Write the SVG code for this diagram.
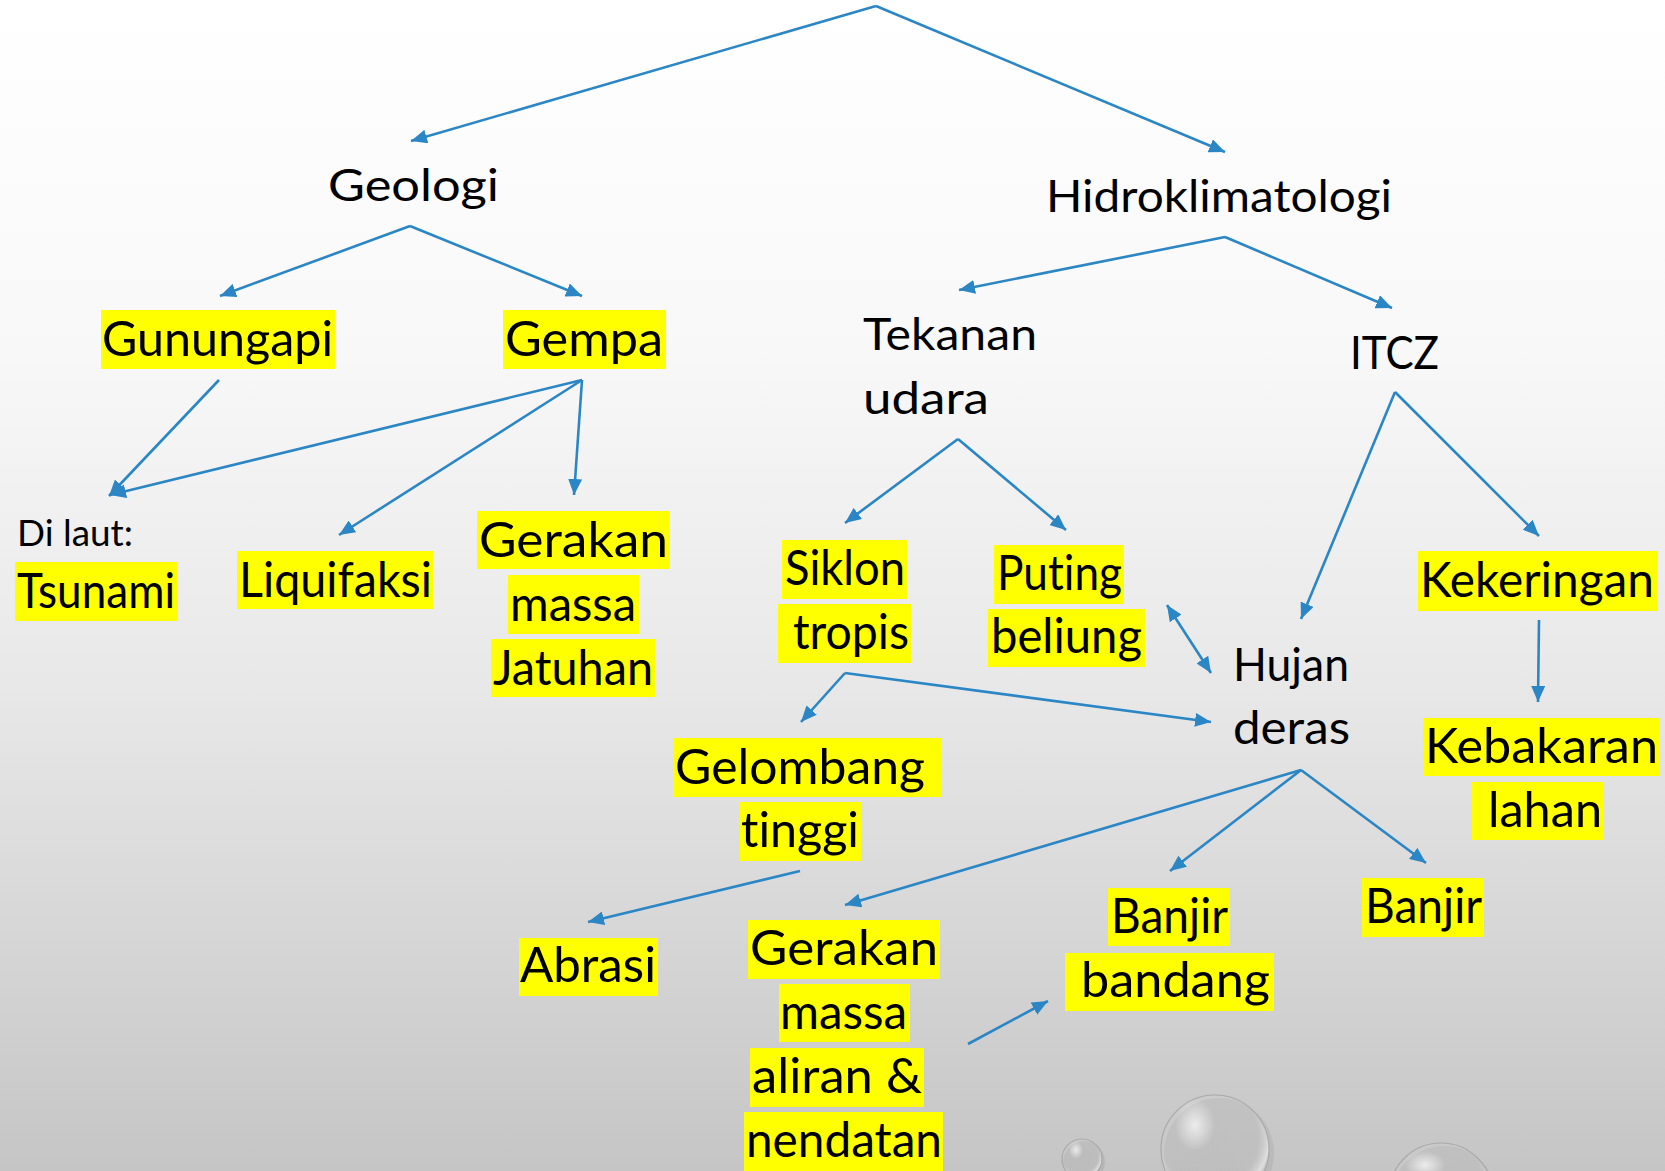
<svg xmlns="http://www.w3.org/2000/svg" width="1665" height="1171" viewBox="0 0 1665 1171">
<defs>
<linearGradient id="bg" x1="0" y1="0" x2="0" y2="1">
<stop offset="0" stop-color="#ffffff"/>
<stop offset="0.3" stop-color="#f8f8f8"/>
<stop offset="0.6" stop-color="#e7e7e7"/>
<stop offset="1" stop-color="#c5c5c5"/>
</linearGradient>
<radialGradient id="drop" cx="0.45" cy="0.4" r="0.6">
<stop offset="0" stop-color="#d8d8d8" stop-opacity="0.15"/>
<stop offset="0.75" stop-color="#d0d0d0" stop-opacity="0.25"/>
<stop offset="0.92" stop-color="#eeeeee" stop-opacity="0.7"/>
<stop offset="1" stop-color="#a8a8a8" stop-opacity="0.9"/>
</radialGradient>
<radialGradient id="shine" cx="0.5" cy="0.5" r="0.5">
<stop offset="0" stop-color="#ffffff" stop-opacity="0.7"/>
<stop offset="1" stop-color="#ffffff" stop-opacity="0"/>
</radialGradient>
<marker id="ah" markerUnits="userSpaceOnUse" markerWidth="18" markerHeight="14" refX="16" refY="7" orient="auto-start-reverse">
<path d="M0,0 L16,7 L0,14 z" fill="#2B86C5"/>
</marker>
<style>
.c{stroke:#2B86C5;stroke-width:2.6;fill:none;marker-end:url(#ah)}
.t{font-family:Lato,"Liberation Sans",sans-serif;fill:#000;font-size:48px;font-variant-ligatures:none;font-feature-settings:"liga" 0}
.s{font-size:45px}
.hl{fill:#FFFF00}
.d{fill:url(#drop);stroke:#a9a9a9;stroke-width:1.2}
.sh{fill:url(#shine)}
</style>
</defs>
<rect x="0" y="0" width="1665" height="1171" fill="url(#bg)"/>
<g id="droplets">
<ellipse cx="1084" cy="1162" rx="21" ry="21" fill="#8a8a8a" opacity="0.25"/>
<circle class="d" cx="1082" cy="1159" r="20"/>
<ellipse class="sh" cx="1076" cy="1150" rx="7" ry="9"/>
<ellipse cx="1219" cy="1153" rx="55" ry="55" fill="#8a8a8a" opacity="0.2"/>
<circle class="d" cx="1215" cy="1149" r="54"/>
<ellipse class="sh" cx="1195" cy="1125" rx="20" ry="26"/>
<ellipse cx="1444" cy="1199" rx="53" ry="53" fill="#8a8a8a" opacity="0.2"/>
<circle class="d" cx="1441" cy="1195" r="52"/>
<ellipse class="sh" cx="1425" cy="1165" rx="20" ry="14"/>
</g>
<g id="connectors">
<line class="c" x1="876" y1="6" x2="411" y2="141"/>
<line class="c" x1="876" y1="6" x2="1225" y2="152"/>
<line class="c" x1="410" y1="226" x2="220" y2="296"/>
<line class="c" x1="410" y1="226" x2="582" y2="296"/>
<line class="c" x1="219" y1="380" x2="109" y2="496"/>
<line class="c" x1="582" y1="380" x2="110" y2="495"/>
<line class="c" x1="582" y1="380" x2="339" y2="535"/>
<line class="c" x1="582" y1="380" x2="574" y2="495"/>
<line class="c" x1="1225" y1="237" x2="959" y2="290"/>
<line class="c" x1="1225" y1="237" x2="1392" y2="308"/>
<line class="c" x1="958" y1="439" x2="845" y2="523"/>
<line class="c" x1="958" y1="439" x2="1066" y2="530"/>
<line class="c" x1="1395" y1="392" x2="1539" y2="536"/>
<line class="c" x1="1395" y1="392" x2="1301" y2="619"/>
<line class="c" x1="845" y1="673" x2="801" y2="722"/>
<line class="c" x1="845" y1="673" x2="1211" y2="722"/>
<line class="c" x1="1167" y1="605" x2="1211" y2="673" style="marker-start:url(#ah)"/>
<line class="c" x1="1539" y1="620" x2="1538" y2="702"/>
<line class="c" x1="1301" y1="770" x2="845" y2="905"/>
<line class="c" x1="1301" y1="770" x2="1170" y2="871"/>
<line class="c" x1="1301" y1="770" x2="1426" y2="863"/>
<line class="c" x1="800" y1="871" x2="588" y2="922"/>
<line class="c" x1="968" y1="1044" x2="1048" y2="1001"/>
</g>
<g id="node-geologi"><text class="t" style="font-size:45px" x="328" y="201" textLength="171" lengthAdjust="spacingAndGlyphs">Geologi</text></g>
<g id="node-hidroklimatologi"><text class="t s" x="1046" y="212" textLength="346" lengthAdjust="spacingAndGlyphs">Hidroklimatologi</text></g>
<g id="node-gunungapi"><rect class="hl" x="101" y="310" width="234" height="59"/><text class="t" x="102" y="356" textLength="231" lengthAdjust="spacingAndGlyphs">Gunungapi</text></g>
<g id="node-gempa"><rect class="hl" x="503" y="310" width="163" height="59"/><text class="t" x="505" y="356" textLength="158" lengthAdjust="spacingAndGlyphs">Gempa</text></g>
<g id="node-dilaut"><text class="t" style="font-size:37px" x="17" y="546" textLength="116" lengthAdjust="spacingAndGlyphs">Di laut:</text></g>
<g id="node-tsunami"><rect class="hl" x="15" y="562" width="163" height="59"/><text class="t" x="17" y="608" textLength="158" lengthAdjust="spacingAndGlyphs">Tsunami</text></g>
<g id="node-liquifaksi"><rect class="hl" x="237" y="551" width="196" height="58"/><text class="t" x="239" y="597" textLength="193" lengthAdjust="spacingAndGlyphs">Liquifaksi</text></g>
<g id="node-gerakan-jatuhan">
<rect class="hl" x="477" y="511" width="193" height="58"/><text class="t" x="479" y="557" textLength="189" lengthAdjust="spacingAndGlyphs">Gerakan</text>
<rect class="hl" x="508" y="575" width="131" height="59"/><text class="t" x="510" y="621" textLength="126" lengthAdjust="spacingAndGlyphs">massa</text>
<rect class="hl" x="491" y="639" width="164" height="58"/><text class="t" x="493" y="685" textLength="160" lengthAdjust="spacingAndGlyphs">Jatuhan</text>
</g>
<g id="node-tekanan"><text class="t s" x="863" y="350" textLength="174" lengthAdjust="spacingAndGlyphs">Tekanan</text><text class="t s" x="863" y="414" textLength="126" lengthAdjust="spacingAndGlyphs">udara</text></g>
<g id="node-itcz"><text class="t" style="font-size:46px" x="1350" y="369" textLength="89" lengthAdjust="spacingAndGlyphs">ITCZ</text></g>
<g id="node-siklon">
<rect class="hl" x="782" y="540" width="125" height="59"/><text class="t" x="785" y="585" textLength="120" lengthAdjust="spacingAndGlyphs">Siklon</text>
<rect class="hl" x="778" y="604" width="133" height="59"/><text class="t" x="793" y="649" textLength="116" lengthAdjust="spacingAndGlyphs">tropis</text>
</g>
<g id="node-puting">
<rect class="hl" x="994" y="545" width="130" height="59"/><text class="t" x="997" y="590" textLength="125" lengthAdjust="spacingAndGlyphs">Puting</text>
<rect class="hl" x="988" y="609" width="157" height="58"/><text class="t" x="991" y="653" textLength="151" lengthAdjust="spacingAndGlyphs">beliung</text>
</g>
<g id="node-hujan"><text class="t" style="font-size:46px" x="1233" y="681" textLength="116" lengthAdjust="spacingAndGlyphs">Hujan</text><text class="t" style="font-size:46px" x="1233" y="744" textLength="117" lengthAdjust="spacingAndGlyphs">deras</text></g>
<g id="node-kekeringan"><rect class="hl" x="1418" y="551" width="240" height="60"/><text class="t" x="1420" y="597" textLength="234" lengthAdjust="spacingAndGlyphs">Kekeringan</text></g>
<g id="node-kebakaran">
<rect class="hl" x="1423" y="718" width="237" height="58"/><text class="t" x="1425" y="763" textLength="233" lengthAdjust="spacingAndGlyphs">Kebakaran</text>
<rect class="hl" x="1472" y="782" width="132" height="58"/><text class="t" x="1488" y="827" textLength="114" lengthAdjust="spacingAndGlyphs">lahan</text>
</g>
<g id="node-gelombang">
<rect class="hl" x="673" y="738" width="268" height="59"/><text class="t" x="675" y="784" textLength="250" lengthAdjust="spacingAndGlyphs">Gelombang</text>
<rect class="hl" x="740" y="802" width="121" height="59"/><text class="t" x="741" y="847" textLength="118" lengthAdjust="spacingAndGlyphs">tinggi</text>
</g>
<g id="node-abrasi"><rect class="hl" x="519" y="938" width="139" height="58"/><text class="t" x="520" y="982" textLength="136" lengthAdjust="spacingAndGlyphs">Abrasi</text></g>
<g id="node-gerakan-aliran">
<rect class="hl" x="748" y="920" width="192" height="59"/><text class="t" x="750" y="965" textLength="188" lengthAdjust="spacingAndGlyphs">Gerakan</text>
<rect class="hl" x="779" y="984" width="131" height="58"/><text class="t" x="780" y="1029" textLength="127" lengthAdjust="spacingAndGlyphs">massa</text>
<rect class="hl" x="750" y="1048" width="174" height="59"/><text class="t" x="752" y="1093" textLength="170" lengthAdjust="spacingAndGlyphs">aliran &amp;</text>
<rect class="hl" x="744" y="1112" width="199" height="59"/><text class="t" x="746" y="1157" textLength="196" lengthAdjust="spacingAndGlyphs">nendatan</text>
</g>
<g id="node-banjir-bandang">
<rect class="hl" x="1108" y="888" width="122" height="58"/><text class="t" x="1111" y="933" textLength="117" lengthAdjust="spacingAndGlyphs">Banjir</text>
<rect class="hl" x="1065" y="953" width="209" height="58"/><text class="t" x="1081" y="997" textLength="189" lengthAdjust="spacingAndGlyphs">bandang</text>
</g>
<g id="node-banjir"><rect class="hl" x="1362" y="878" width="122" height="59"/><text class="t" x="1365" y="923" textLength="117" lengthAdjust="spacingAndGlyphs">Banjir</text></g>
</svg>
